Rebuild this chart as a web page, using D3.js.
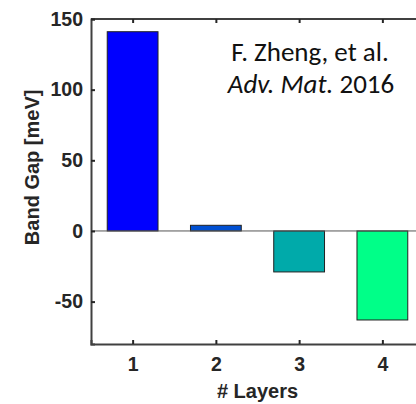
<!DOCTYPE html>
<html lang="en">
<head>
  <meta charset="UTF-8" />
  <title>Band Gap vs Layers</title>
  <style>
    body { margin: 0; padding: 0; background: #fff; }
    svg { display: block; }
    .tick text { font-family: Arial, "Liberation Sans", sans-serif; font-weight: bold; font-size: 19.5px; fill: #262626; }
  </style>
</head>
<body>
  <svg id="chart"></svg>

  <script src="https://d3js.org/d3.v7.min.js"></script>
  <script>
    const layers = [1, 2, 3, 4];
    const bandGap = [141, 4, -29, -63];
    const barColors = ["#0000ff", "#0050d2", "#00aaaa", "#00ff88"];
    const yTicks = [-50, 0, 50, 100, 150];

    const width = 416, height = 404;
    const margin = { top: 19, right: -8, bottom: 60, left: 91 };

    const svg = d3.select("#chart")
      .attr("width", width)
      .attr("height", height);

    const x = d3.scaleLinear()
      .domain([0.5, 4.5])
      .range([margin.left, width - margin.right]);

    const y = d3.scaleLinear()
      .domain([-80, 150])
      .range([height - margin.bottom, margin.top]);

    const barW = 0.61;

    svg.selectAll("rect.bar")
      .data(layers)
      .join("rect")
      .attr("class", "bar")
      .attr("x", d => x(d - barW / 2))
      .attr("width", d => x(d + barW / 2) - x(d - barW / 2))
      .attr("y", (d, i) => y(Math.max(0, bandGap[i])))
      .attr("height", (d, i) => Math.abs(y(bandGap[i]) - y(0)))
      .attr("fill", (d, i) => barColors[i])
      .attr("stroke", "#222")
      .attr("stroke-width", 1);

    // baseline at zero
    svg.append("line")
      .attr("x1", x(0.5))
      .attr("x2", x(4.5))
      .attr("y1", y(0))
      .attr("y2", y(0))
      .attr("stroke", "#555")
      .attr("stroke-width", 1);

    // box top
    svg.append("line")
      .attr("x1", x(0.5))
      .attr("x2", x(4.5))
      .attr("y1", y(150))
      .attr("y2", y(150))
      .attr("stroke", "#404040")
      .attr("stroke-width", 2);

    svg.append("g")
      .attr("transform", `translate(0,${y(150)})`)
      .call(d3.axisBottom(x).tickValues(layers).tickSize(4).tickFormat(""))
      .call(g => g.select(".domain").remove())
      .call(g => g.selectAll(".tick line").attr("stroke", "#262626").attr("stroke-width", 2));

    svg.append("g")
      .attr("transform", `translate(0,${y(-80)})`)
      .call(d3.axisTop(x).tickValues(layers).tickSize(4).tickFormat(""))
      .call(g => g.select(".domain").attr("stroke", "#404040").attr("stroke-width", 2))
      .call(g => g.selectAll(".tick line").attr("stroke", "#262626").attr("stroke-width", 2));

    svg.append("g")
      .attr("transform", `translate(0,${y(-80)})`)
      .call(d3.axisBottom(x).tickValues(layers).tickSize(0).tickPadding(13).tickFormat(d => String(d)))
      .call(g => g.select(".domain").remove());

    svg.append("g")
      .attr("transform", `translate(${x(0.5)},0)`)
      .call(d3.axisRight(y).tickValues(yTicks).tickSize(4).tickFormat(""))
      .call(g => g.select(".domain").attr("stroke", "#404040").attr("stroke-width", 2))
      .call(g => g.selectAll(".tick line").attr("stroke", "#262626").attr("stroke-width", 2));

    svg.append("g")
      .attr("transform", `translate(${x(0.5)},0)`)
      .call(d3.axisLeft(y).tickValues(yTicks).tickSize(0).tickPadding(8).tickFormat(d => String(d)))
      .call(g => g.select(".domain").remove());

    svg.append("text")
      .attr("transform", `translate(39,${y(45)}) rotate(-90)`)
      .attr("text-anchor", "middle")
      .attr("font-family", "Arial, 'Liberation Sans', sans-serif")
      .attr("font-weight", "bold")
      .attr("font-size", 20)
      .attr("fill", "#262626")
      .text("Band Gap [meV]");

    svg.append("text")
      .attr("x", x(2.5))
      .attr("y", 398)
      .attr("text-anchor", "middle")
      .attr("font-family", "Arial, 'Liberation Sans', sans-serif")
      .attr("font-weight", "bold")
      .attr("font-size", 20)
      .attr("fill", "#262626")
      .text("# Layers");

    const note = svg.append("text")
      .attr("text-anchor", "middle")
      .attr("font-family", "Carlito, Lato, 'Open Sans', sans-serif")
      .attr("font-size", 27)
      .attr("fill", "#111");
    note.append("tspan").attr("x", 310).attr("y", 61).text("F. Zheng, et al.");
    const l2 = note.append("tspan").attr("x", 311).attr("y", 93);
    l2.append("tspan").attr("font-style", "italic").text("Adv. Mat.");
    l2.append("tspan").text(" 2016");
  </script>
</body>
</html>
